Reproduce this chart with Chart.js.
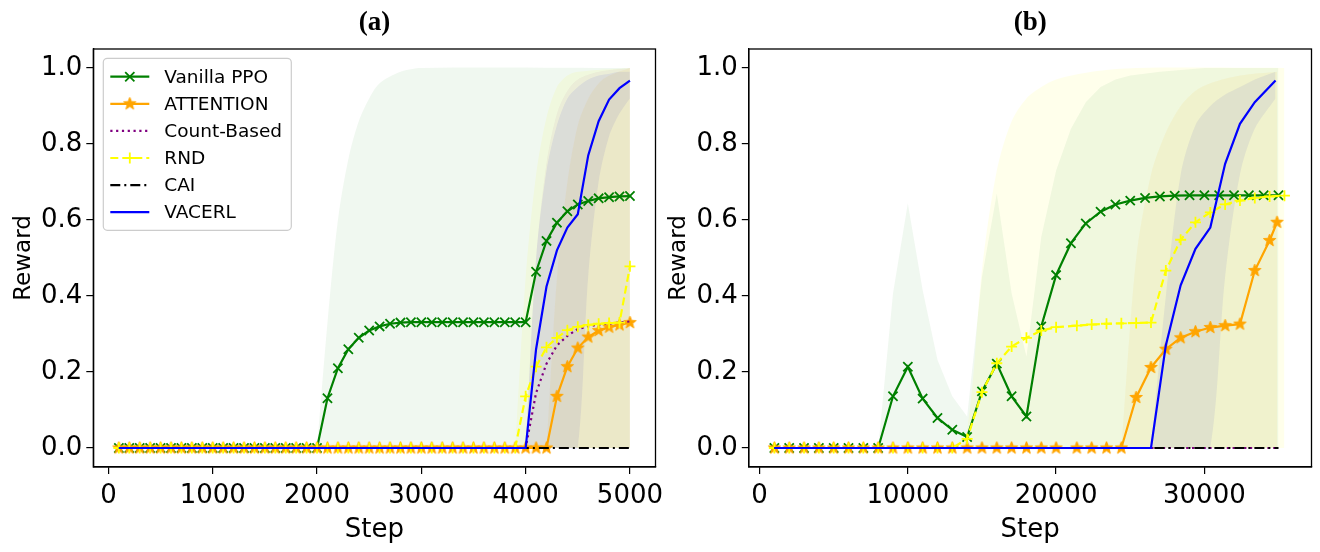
<!DOCTYPE html>
<html>
<head>
<meta charset="utf-8">
<script src="https://cdn.jsdelivr.net/npm/chart.js@4.4.1/dist/chart.umd.min.js"></script>
<style>
  html, body { margin: 0; padding: 0; background: #fff; }
  body { width: 1320px; height: 552px; position: relative; overflow: hidden; }
  #wrapA { position: absolute; left: 0; top: 0; width: 700px; height: 552px; z-index: 2; }
  #wrapB { position: absolute; left: 660px; top: 0; width: 660px; height: 552px; z-index: 1; }
</style>
</head>
<body>
<div id="wrapB"><canvas id="chartB" width="660" height="552"></canvas></div>
<div id="wrapA"><canvas id="chartA" width="700" height="552"></canvas></div>
<script>
// --- data ---

// panel (a)
const stepsA = [100, 200, 300, 400, 500, 600, 700, 800, 900, 1000,
  1100, 1200, 1300, 1400, 1500, 1600, 1700, 1800, 1900, 2000,
  2100, 2200, 2300, 2400, 2500, 2600, 2700, 2800, 2900, 3000,
  3100, 3200, 3300, 3400, 3500, 3600, 3700, 3800, 3900, 4000,
  4100, 4200, 4300, 4400, 4500, 4600, 4700, 4800, 4900, 5000];
const ppoA = [0, 0, 0, 0, 0, 0, 0, 0, 0, 0,
  0, 0, 0, 0, 0, 0, 0, 0, 0, 0,
  0.131, 0.21, 0.26, 0.29, 0.309, 0.32, 0.327, 0.33, 0.331, 0.331,
  0.331, 0.331, 0.331, 0.331, 0.331, 0.331, 0.331, 0.331, 0.331, 0.331,
  0.464, 0.545, 0.593, 0.623, 0.641, 0.65, 0.657, 0.66, 0.662, 0.663];
const attA = [0, 0, 0, 0, 0, 0, 0, 0, 0, 0,
  0, 0, 0, 0, 0, 0, 0, 0, 0, 0,
  0, 0, 0, 0, 0, 0, 0, 0, 0, 0,
  0, 0, 0, 0, 0, 0, 0, 0, 0, 0,
  0, 0, 0.136, 0.214, 0.263, 0.292, 0.309, 0.318, 0.324, 0.33];
const cntA = [0, 0, 0, 0, 0, 0, 0, 0, 0, 0,
  0, 0, 0, 0, 0, 0, 0, 0, 0, 0,
  0, 0, 0, 0, 0, 0, 0, 0, 0, 0,
  0, 0, 0, 0, 0, 0, 0, 0, 0, 0,
  0.145, 0.222, 0.27, 0.295, 0.313, 0.32, 0.325, 0.328, 0.33, 0.333];
const rndA = [0, 0, 0, 0, 0, 0, 0, 0, 0, 0,
  0, 0, 0, 0, 0, 0, 0, 0, 0, 0,
  0, 0, 0, 0, 0, 0, 0, 0, 0, 0,
  0, 0, 0, 0, 0, 0, 0, 0, 0, 0.136,
  0.214, 0.265, 0.29, 0.31, 0.319, 0.324, 0.327, 0.329, 0.33, 0.478];
const caiA = [0, 0, 0, 0, 0, 0, 0, 0, 0, 0,
  0, 0, 0, 0, 0, 0, 0, 0, 0, 0,
  0, 0, 0, 0, 0, 0, 0, 0, 0, 0,
  0, 0, 0, 0, 0, 0, 0, 0, 0, 0,
  0, 0, 0, 0, 0, 0, 0, 0, 0, 0];
const vacA = [0, 0, 0, 0, 0, 0, 0, 0, 0, 0,
  0, 0, 0, 0, 0, 0, 0, 0, 0, 0,
  0, 0, 0, 0, 0, 0, 0, 0, 0, 0,
  0, 0, 0, 0, 0, 0, 0, 0, 0, 0,
  0.26, 0.425, 0.52, 0.58, 0.615, 0.77, 0.86, 0.917, 0.947, 0.967];

// shaded spread bands of panel (a)
const ppoBandXA = [2000, 2100, 2200, 2300, 2400, 2500, 2600, 2800, 3000, 5000];
const ppoBandHiA = [0, 0.33, 0.6, 0.76, 0.86, 0.92, 0.96, 0.99, 1.0, 1.0];
const rndBandXA = [3900, 4000, 4100, 4200, 4300, 4400, 4500, 5000];
const rndBandHiA = [0, 0.45, 0.72, 0.87, 0.95, 0.98, 0.99, 1.0];
const cntBandXA = [4000, 4100, 4200, 4300, 4400, 4500, 4700, 5000];
const cntBandHiA = [0, 0.5, 0.75, 0.88, 0.94, 0.97, 0.99, 1.0];
const attBandXA = [4200, 4300, 4400, 4500, 4600, 4700, 4800, 5000];
const attBandHiA = [0, 0.45, 0.7, 0.85, 0.92, 0.96, 0.98, 1.0];
const vacBandXA = [4000, 4100, 4200, 4300, 4400, 4500, 4600, 4700, 4800, 4900, 5000];
const vacBandHiA = [0, 0.5, 0.73, 0.85, 0.92, 0.95, 0.97, 0.98, 0.985, 0.99, 0.99];
const vacBandLoA = [0, 0, 0, 0, 0, 0, 0.45, 0.7, 0.82, 0.88, 0.92];

// panel (b)
const stepsB = [1000, 2000, 3000, 4000, 5000, 6000, 7000, 8000, 9000, 10000,
  11000, 12000, 13000, 14000, 15000, 16000, 17000, 18000, 19000, 20000,
  21000, 22000, 23000, 24000, 25000, 26000, 27000, 28000, 29000, 30000,
  31000, 32000, 33000, 34000, 35000];
const ppoB = [0, 0, 0, 0, 0, 0, 0, 0, 0.136, 0.214,
  0.13, 0.079, 0.048, 0.029, 0.149, 0.222, 0.136, 0.083, 0.32, 0.455,
  0.539, 0.591, 0.622, 0.641, 0.651, 0.658, 0.662, 0.664, 0.665, 0.665,
  0.665, 0.665, 0.665, 0.665, 0.665];
const cntB = [0, 0, 0, 0, 0, 0, 0, 0, 0, 0,
  0, 0, 0, 0, 0, 0, 0, 0, 0, 0,
  0, 0, 0, 0, 0, 0, 0, 0, 0, 0,
  0, 0, 0, 0, 0];
const caiB = [0, 0, 0, 0, 0, 0, 0, 0, 0, 0,
  0, 0, 0, 0, 0, 0, 0, 0, 0, 0,
  0, 0, 0, 0, 0, 0, 0, 0, 0, 0,
  0, 0, 0, 0, 0];
const attStepsB = [1000, 2000, 3000, 4000, 5000, 6000, 7000, 8000, 9000, 10000,
  11000, 12000, 13000, 14000, 15000, 16000, 17000, 18000, 19000, 20000,
  21400, 22400, 23400, 24400, 25400, 26400, 27400, 28400, 29400, 30400,
  31400, 32400, 33400, 34400, 34900];
const attB = [0, 0, 0, 0, 0, 0, 0, 0, 0, 0,
  0, 0, 0, 0, 0, 0, 0, 0, 0, 0,
  0, 0, 0, 0, 0.133, 0.212, 0.26, 0.29, 0.306, 0.317,
  0.322, 0.326, 0.467, 0.546, 0.594];
const rndStepsB = [1000, 2000, 3000, 4000, 5000, 6000, 7000, 8000, 9000, 10000,
  11000, 12000, 13000, 14000, 15000, 16000, 17000, 18000, 19000, 20000,
  21400, 22400, 23400, 24400, 25400, 26400, 27400, 28400, 29400, 30400,
  31400, 32400, 33400, 34400, 35400];
const rndB = [0, 0, 0, 0, 0, 0, 0, 0, 0, 0,
  0, 0, 0, 0.024, 0.147, 0.223, 0.267, 0.29, 0.309, 0.318,
  0.322, 0.325, 0.327, 0.328, 0.329, 0.33, 0.467, 0.548, 0.594, 0.62,
  0.641, 0.651, 0.658, 0.662, 0.664];
const vacStepsB = [1000, 26400, 27400, 28400, 29400, 30400, 31400, 32400, 33400, 34800];
const vacB = [0, 0, 0.27, 0.428, 0.524, 0.58, 0.748, 0.853, 0.91, 0.967];

// shaded spread bands of panel (b)
const ppoBandXB = [8000, 9000, 10000, 11000, 12000, 13000, 14000, 15000, 16000, 17000, 18000,
  19000, 20000, 21000, 22000, 23000, 24000, 25000, 27000, 30000, 35000];
const ppoBandHiB = [0, 0.407, 0.644, 0.416, 0.232, 0.136, 0.083, 0.45, 0.67, 0.407, 0.241,
  0.556, 0.73, 0.84, 0.91, 0.95, 0.97, 0.98, 0.99, 1.0, 1.0];
const rndBandXB = [13000, 14000, 15000, 16000, 17000, 18000, 19000, 20000, 22400, 25400, 35400];
const rndBandHiB = [0, 0.05, 0.47, 0.73, 0.86, 0.92, 0.95, 0.97, 0.99, 1.0, 1.0];
const attBandXB = [24400, 25400, 26400, 27400, 28400, 29400, 30400, 32400, 34900];
const attBandHiB = [0, 0.5, 0.72, 0.83, 0.9, 0.94, 0.96, 0.98, 0.99];
const vacBandXB = [26400, 27400, 28400, 29400, 30400, 31400, 32400, 33400, 34800];
const vacBandHiB = [0, 0.4, 0.72, 0.85, 0.9, 0.93, 0.95, 0.97, 0.99];
const vacBandLoB = [0, 0, 0, 0, 0, 0.45, 0.72, 0.84, 0.92];

// axis ticks
const xTicksA = [0, 1000, 2000, 3000, 4000, 5000];
const xTicksB = [0, 10000, 20000, 30000];
const yTicks = [0, 0.2, 0.4, 0.6, 0.8, 1.0];

// --- helpers ---
Chart.defaults.font.family = '"DejaVu Sans", sans-serif';
Chart.defaults.color = '#000';

function pts(xs, ys) {
  return xs.map((x, i) => ({ x: x, y: ys[i] }));
}

// filled star like matplotlib's '*' marker
function starMarker(color, r) {
  const c = document.createElement('canvas');
  const s = Math.ceil(r * 2 + 4);
  c.width = s; c.height = s;
  const g = c.getContext('2d');
  g.beginPath();
  for (let i = 0; i < 10; i++) {
    const rr = i % 2 === 0 ? r : r * 0.42;
    const a = -Math.PI / 2 + i * Math.PI / 5;
    const px = s / 2 + rr * Math.cos(a), py = s / 2 + rr * Math.sin(a);
    if (i === 0) g.moveTo(px, py); else g.lineTo(px, py);
  }
  g.closePath();
  g.fillStyle = color; g.fill();
  g.strokeStyle = color; g.lineWidth = 1; g.stroke();
  return c;
}
const starImg = starMarker('#FFA500', 6.5);

const look = {
  ppo: { label: 'Vanilla PPO', borderColor: '#008000', pointStyle: 'crossRot', pointRadius: 6.5,
    pointBorderWidth: 1.8, pointBorderColor: '#008000', pointBackgroundColor: '#008000', order: 6 },
  att: { label: 'ATTENTION', borderColor: '#FFA500', pointStyle: starImg, pointRadius: 6,
    pointBorderWidth: 1, pointBorderColor: '#FFA500', pointBackgroundColor: '#FFA500', order: 5 },
  cnt: { label: 'Count-Based', borderColor: '#800080', borderDash: [2.2, 3.6], pointRadius: 0, order: 4 },
  rnd: { label: 'RND', borderColor: '#FFFF00', borderDash: [8, 4], pointStyle: 'cross', pointRadius: 5.5,
    pointBorderWidth: 1.8, pointBorderColor: '#FFFF00', pointBackgroundColor: '#FFFF00', order: 3 },
  cai: { label: 'CAI', borderColor: '#000000', borderDash: [10, 4, 2, 4], pointRadius: 0, order: 2 },
  vac: { label: 'VACERL', borderColor: '#0000FF', pointRadius: 0, order: 1 }
};

const bandColors = {
  ppo: 'rgba(0,128,0,0.06)',
  att: 'rgba(255,165,0,0.08)',
  cnt: 'rgba(128,0,128,0.05)',
  rnd: 'rgba(255,255,0,0.08)',
  vac: 'rgba(0,0,255,0.08)'
};

function series(key, xs, ys) {
  return Object.assign({
    data: pts(xs, ys), isSeries: true, borderWidth: 2.2, fill: false, tension: 0,
    pointHoverRadius: 0, borderCapStyle: 'butt'
  }, look[key]);
}

// band filled down to zero, or to a lower edge
function bands(key, xs, hi, lo, tension) {
  const t = tension === undefined ? 0.3 : tension;
  const up = {
    label: '', data: pts(xs, hi), borderWidth: 1, borderColor: 'rgba(0,0,0,0)', pointRadius: 0,
    backgroundColor: bandColors[key], fill: { value: 0 }, order: 20, tension: t
  };
  if (!lo) return [up];
  const down = {
    label: '', data: pts(xs, lo), borderWidth: 1, borderColor: 'rgba(0,0,0,0)', pointRadius: 0,
    fill: false, order: 20, tension: t
  };
  up.fill = '-1';
  return [down, up];
}

function scales(xMin, xMax, xTicks, yWidth, titlePad) {
  return {
    x: {
      type: 'linear', min: xMin, max: xMax,
      afterBuildTicks: s => { s.ticks = xTicks.map(v => ({ value: v })); },
      afterFit: s => { s.height = 85; },
      grid: { drawOnChartArea: false, drawTicks: true, tickLength: 7, color: '#000', lineWidth: 1.2 },
      border: { display: true, color: '#000', width: 1.3 },
      ticks: { font: { size: 26 }, color: '#000', padding: 7, maxRotation: 0, autoSkip: false,
        callback: v => String(v) },
      title: { display: true, text: 'Step', font: { size: 26 }, color: '#000', padding: { top: 0, bottom: 6 } }
    },
    y: {
      type: 'linear', min: -0.05, max: 1.05,
      afterBuildTicks: s => { s.ticks = yTicks.map(v => ({ value: v })); },
      afterFit: s => { s.width = yWidth; },
      grid: { drawOnChartArea: false, drawTicks: true, tickLength: 7, color: '#000', lineWidth: 1.2 },
      border: { display: true, color: '#000', width: 1.3 },
      ticks: { font: { size: 26 }, color: '#000', padding: 4, callback: v => v.toFixed(1) },
      title: { display: true, text: 'Reward', font: { size: 23 }, color: '#000', padding: { top: titlePad, bottom: 0 } }
    }
  };
}

// draws the top and right spines too
const framePlugin = {
  id: 'frame',
  afterDatasetsDraw(chart) {
    const { ctx, chartArea: a } = chart;
    ctx.save();
    ctx.strokeStyle = '#000';
    ctx.lineWidth = 1.3;
    ctx.strokeRect(a.left, a.top, a.right - a.left, a.bottom - a.top);
    ctx.restore();
  }
};

// matplotlib style legend: line sample with marker, then text
const legendPlugin = {
  id: 'mplLegend',
  afterDraw(chart) {
    const ctx = chart.ctx, a = chart.chartArea;
    const bx = a.left + 10, by = a.top + 9.3, bw = 188, bh = 172, r = 4;
    ctx.save();
    ctx.beginPath();
    ctx.moveTo(bx + r, by);
    ctx.lineTo(bx + bw - r, by);
    ctx.arcTo(bx + bw, by, bx + bw, by + r, r);
    ctx.lineTo(bx + bw, by + bh - r);
    ctx.arcTo(bx + bw, by + bh, bx + bw - r, by + bh, r);
    ctx.lineTo(bx + r, by + bh);
    ctx.arcTo(bx, by + bh, bx, by + bh - r, r);
    ctx.lineTo(bx, by + r);
    ctx.arcTo(bx, by, bx + r, by, r);
    ctx.closePath();
    ctx.fillStyle = 'rgba(255,255,255,0.8)';
    ctx.fill();
    ctx.strokeStyle = '#cccccc';
    ctx.lineWidth = 1.2;
    ctx.stroke();
    ctx.restore();

    const items = chart.data.datasets.filter(d => d.isSeries);
    items.forEach((d, i) => {
      const y = by + 18.4 + i * 27.1;
      ctx.save();
      ctx.strokeStyle = d.borderColor;
      ctx.lineWidth = d.borderWidth;
      ctx.setLineDash(d.borderDash || []);
      ctx.beginPath();
      ctx.moveTo(bx + 7, y);
      ctx.lineTo(bx + 46, y);
      ctx.stroke();
      ctx.restore();
      if (d.pointRadius > 0) {
        ctx.save();
        ctx.strokeStyle = d.pointBorderColor;
        ctx.fillStyle = d.pointBackgroundColor;
        ctx.lineWidth = d.pointBorderWidth;
        Chart.helpers.drawPoint(ctx, { pointStyle: d.pointStyle, radius: d.pointRadius,
          borderWidth: d.pointBorderWidth, rotation: 0 }, bx + 26.5, y);
        ctx.restore();
      }
      ctx.save();
      ctx.fillStyle = '#000';
      ctx.font = '18.5px "DejaVu Sans"';
      ctx.textBaseline = 'middle';
      ctx.fillText(d.label, bx + 61, y + 1);
      ctx.restore();
    });
  }
};

function titleOpts(text) {
  return {
    display: true, text: text, fullSize: false, color: '#000',
    font: { family: '"Liberation Serif", "Times New Roman", serif', size: 27, weight: 'bold', lineHeight: 1.2 },
    padding: { top: 7, bottom: 9.6 }
  };
}

// --- panel (a) ---
new Chart(document.getElementById('chartA'), {
  type: 'line',
  data: {
    datasets: [
      series('ppo', stepsA, ppoA),
      series('att', stepsA, attA),
      series('cnt', stepsA, cntA),
      series('rnd', stepsA, rndA),
      series('cai', stepsA, caiA),
      series('vac', stepsA, vacA),
      ...bands('ppo', ppoBandXA, ppoBandHiA),
      ...bands('rnd', rndBandXA, rndBandHiA),
      ...bands('cnt', cntBandXA, cntBandHiA),
      ...bands('att', attBandXA, attBandHiA),
      ...bands('vac', vacBandXA, vacBandHiA, vacBandLoA)
    ]
  },
  options: {
    responsive: false, animation: false, events: [],
    layout: { padding: { left: 0, right: 44.5, top: 0, bottom: 0 } },
    plugins: { legend: { display: false }, tooltip: { enabled: false }, title: titleOpts('(a)') },
    scales: scales(-145, 5245, xTicksA, 93.3, 10.2)
  },
  plugins: [framePlugin, legendPlugin]
});

// --- panel (b) ---
new Chart(document.getElementById('chartB'), {
  type: 'line',
  data: {
    datasets: [
      series('ppo', stepsB, ppoB),
      series('att', attStepsB, attB),
      series('cnt', stepsB, cntB),
      series('rnd', rndStepsB, rndB),
      series('cai', stepsB, caiB),
      series('vac', vacStepsB, vacB),
      ...bands('ppo', ppoBandXB, ppoBandHiB, null, 0),
      ...bands('rnd', rndBandXB, rndBandHiB),
      ...bands('att', attBandXB, attBandHiB),
      ...bands('vac', vacBandXB, vacBandHiB, vacBandLoB)
    ]
  },
  options: {
    responsive: false, animation: false, events: [],
    layout: { padding: { left: 0, right: 8.5, top: 0, bottom: 0 } },
    plugins: { legend: { display: false }, tooltip: { enabled: false }, title: titleOpts('(b)') },
    scales: scales(-725, 37225, xTicksB, 88.8, 5.2)
  },
  plugins: [framePlugin]
});
</script>
</body>
</html>
